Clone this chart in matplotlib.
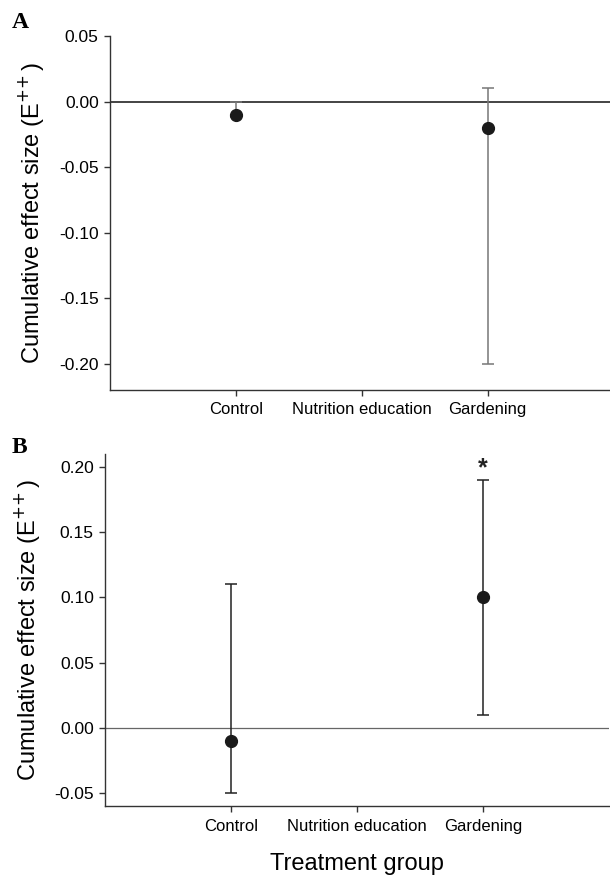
import numpy as np
import matplotlib
matplotlib.use("Agg")
from matplotlib import pyplot as plt

plt.rcParams['font.family'] = ['Liberation Sans', 'DejaVu Sans']

groups = ['Control', 'Nutrition education', 'Gardening']

# panel A (only Control and Gardening have estimates)
a_x = [1, 3]
a_mean = [-0.01, -0.02]
a_low = [-0.012, -0.20]
a_high = [0.0, 0.01]

# panel B
b_x = [1, 3]
b_mean = [-0.01, 0.10]
b_low = [-0.05, 0.01]
b_high = [0.11, 0.19]
b_star_x = 3
b_star_y = 0.199

a_ticks = [0.05, 0.00, -0.05, -0.10, -0.15, -0.20]
b_ticks = [0.20, 0.15, 0.10, 0.05, 0.00, -0.05]

fig = plt.figure(figsize=(6.1, 8.8), dpi=100)
ax_a = fig.add_axes([0.180, 0.557, 0.826, 0.402])
ax_b = fig.add_axes([0.172, 0.084, 0.826, 0.400])


def style_axis(ax, ticks, ylim):
    ax.set_xlim(0, 4)
    ax.set_ylim(*ylim)
    ax.set_xticks([1, 2, 3])
    ax.set_xticklabels(groups, fontsize=12)
    ax.set_yticks(ticks)
    ax.set_yticklabels(['%.2f' % t for t in ticks], fontsize=12.5)
    for s in ['top', 'right']:
        ax.spines[s].set_visible(False)
    for s in ['left', 'bottom']:
        ax.spines[s].set_linewidth(1.0)
        ax.spines[s].set_color('#333333')
    ax.tick_params(direction='out', length=4, width=1, color='#333333', pad=4)
    ax.tick_params(axis='x', pad=5)
    ax.set_ylabel(r'Cumulative effect size (E$^{+\!+}$)', fontsize=17, labelpad=9)


def draw(ax, x, mean, low, high, color):
    mean = np.array(mean)
    yerr = [mean - np.array(low), np.array(high) - mean]
    ax.errorbar(x, mean, yerr=yerr, fmt='o', color='#1a1a1a', ecolor=color,
                elinewidth=1.1, capsize=4, capthick=1.1, markersize=8.5, zorder=3)


style_axis(ax_a, a_ticks, (-0.22, 0.05))
ax_a.axhline(0, color='#111111', lw=1.1, zorder=1)
draw(ax_a, a_x, a_mean, a_low, a_high, '#777777')

style_axis(ax_b, b_ticks, (-0.06, 0.21))
ax_b.axhline(0, color='#666666', lw=0.9, zorder=1)
draw(ax_b, b_x, b_mean, b_low, b_high, '#222222')
ax_b.text(b_star_x, b_star_y, '*', ha='center', va='center', fontsize=18,
          fontweight='bold', color='#222222')
ax_b.set_xlabel('Treatment group', fontsize=17, labelpad=14)

fig.text(12 / 610, 1 - 22 / 880, 'A', family='Liberation Serif', fontweight='bold',
         fontsize=17, va='center', ha='left')
fig.text(12 / 610, 1 - 447 / 880, 'B', family='Liberation Serif', fontweight='bold',
         fontsize=17, va='center', ha='left')

fig.savefig('out.png', dpi=100)
